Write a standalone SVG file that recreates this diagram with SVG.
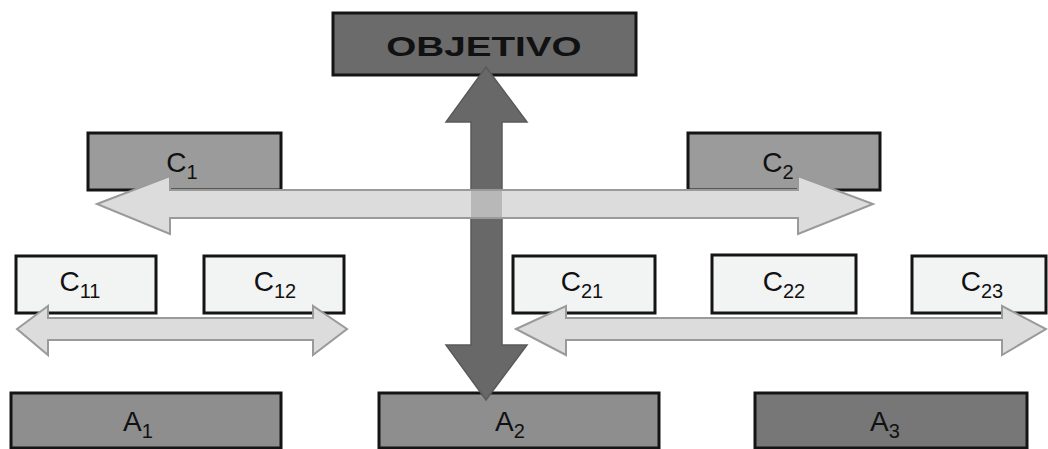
<svg xmlns="http://www.w3.org/2000/svg" width="1048" height="449" viewBox="0 0 1048 449">
<style>
.box{stroke:#141414;stroke-width:3}
.obj{fill:#6b6b6b}
.mid{fill:#9b9b9b}
.lite{fill:#f2f3f3}
.a{fill:#8e8e8e}
.a3{fill:#777777}
.t{font-family:"Liberation Sans",Arial,sans-serif;font-size:28px;fill:#111;text-anchor:middle}
.sub{font-size:20px}
.harrow{fill:#dcdcdc;stroke:#9a9a9a;stroke-width:2}
.cross{fill:#b8b8b8}
.varrow{fill:#686868;stroke:#5a5a5a;stroke-width:1.5}
</style>
<rect width="1048" height="449" fill="#ffffff"/>
<g id="objetivo">
<rect class="box obj" x="333" y="13" width="303" height="62"/>
<text class="t" transform="translate(484,56) scale(1.38,1)" font-weight="bold" font-size="31">OBJETIVO</text>
</g>
<g id="c1">
<rect class="box mid" x="88" y="133" width="193" height="57"/>
<text class="t" x="182" y="172">C<tspan class="sub" dy="7">1</tspan></text>
</g>
<g id="c2">
<rect class="box mid" x="688" y="133" width="192" height="57"/>
<text class="t" x="778" y="172">C<tspan class="sub" dy="7">2</tspan></text>
</g>
<g id="c11">
<rect class="box lite" x="16" y="256" width="140" height="57"/>
<text class="t" x="80" y="291">C<tspan class="sub" dy="7">11</tspan></text>
</g>
<g id="c12">
<rect class="box lite" x="204" y="256" width="140" height="57"/>
<text class="t" x="275" y="291">C<tspan class="sub" dy="7">12</tspan></text>
</g>
<g id="c21">
<rect class="box lite" x="513" y="256" width="142" height="57"/>
<text class="t" x="582" y="291">C<tspan class="sub" dy="7">21</tspan></text>
</g>
<g id="c22">
<rect class="box lite" x="712" y="255" width="144" height="58"/>
<text class="t" x="784" y="291">C<tspan class="sub" dy="7">22</tspan></text>
</g>
<g id="c23">
<rect class="box lite" x="912" y="256" width="134" height="57"/>
<text class="t" x="982" y="291">C<tspan class="sub" dy="7">23</tspan></text>
</g>
<g id="a1">
<rect class="box a" x="11" y="393" width="270" height="55"/>
<text class="t" x="138" y="431">A<tspan class="sub" dy="7">1</tspan></text>
</g>
<g id="a2">
<rect class="box a" x="379" y="393" width="280" height="55"/>
<text class="t" x="510" y="431">A<tspan class="sub" dy="7">2</tspan></text>
</g>
<g id="a3">
<rect class="box a3" x="755" y="393" width="272" height="55"/>
<text class="t" x="885" y="431">A<tspan class="sub" dy="7">3</tspan></text>
</g>
<g id="connectors">
<polygon class="varrow" points="486,67 527,122 502,122 502,345 527,345 486,400 446,345 471,345 471,122 446,122"/>
<polygon class="harrow" points="97,204 170,176 170,190 798,190 798,176 873,204 798,234 798,218 170,218 170,234"/>
<rect class="cross" x="471" y="191" width="31" height="26"/>
<polygon class="harrow" points="17,329 48,306 48,318 313,318 313,306 347,329 313,355 313,340 48,340 48,355"/>
<polygon class="harrow" points="516,329 566,306 566,318 1002,318 1002,306 1046,329 1002,355 1002,340 566,340 566,355"/>
</g>
</svg>
